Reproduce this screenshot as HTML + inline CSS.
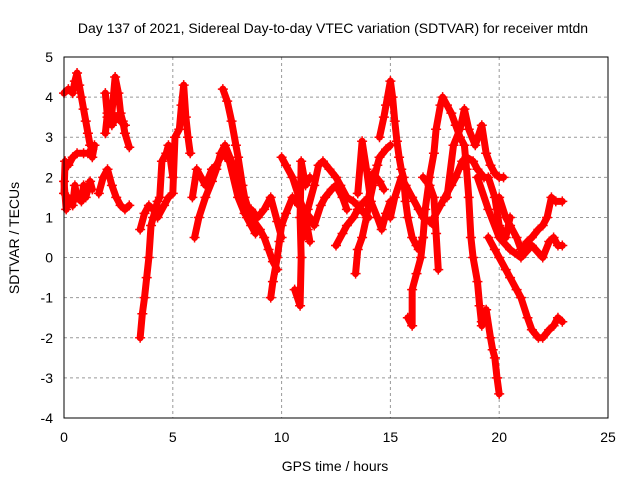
<!DOCTYPE html>
<html><head><meta charset="utf-8"><style>
body{margin:0;background:#fff}
svg{display:block;font-family:"Liberation Sans",sans-serif}
</style></head><body>
<svg id="chart" width="640" height="480" viewBox="0 0 640 480">
<rect width="640" height="480" fill="#fff"/>
<text x="333" y="33" font-size="14" text-anchor="middle">Day 137 of 2021, Sidereal Day-to-day VTEC variation (SDTVAR) for receiver mtdn</text>
<g id="grid"></g>
<g id="marks"></g>
<rect x="64" y="57" width="544" height="361" fill="none" stroke="#000" stroke-width="1"/>
<g id="ticks"></g>
<text x="335" y="471" font-size="14" text-anchor="middle">GPS time / hours</text>
<text x="19" y="238" font-size="14" text-anchor="middle" transform="rotate(-90 19 238)">SDTVAR / TECUs</text>
</svg>
<script>
const xTicks=[0,5,10,15,20,25];
const yTicks=[-4,-3,-2,-1,0,1,2,3,4,5];
const arc1=[[0,4.1],[0.2,4.2],[0.4,4.1],[0.5,4.4],[0.6,4.6],[0.7,4.3],[0.8,4.0],[0.9,3.7],[1.0,3.4],[1.1,3.1],[1.2,2.8]];
const arc2=[[1.9,3.1],[2.0,3.6],[2.1,3.4],[2.2,3.6],[2.35,4.5],[2.5,4.1],[2.6,3.6],[2.7,3.4],[2.8,3.1],[3.0,2.75]];
const arc2b=[[1.9,4.1],[2.0,3.5],[2.2,3.3],[2.4,3.5],[2.6,3.4],[2.8,3.3]];
const arc3=[[0,1.6],[0.05,2.4],[0.2,2.3],[0.4,2.5],[0.6,2.6],[0.9,2.6],[1.1,2.6],[1.3,2.7],[1.4,2.8],[1.3,2.5]];
const arc4=[[0,1.9],[0.1,1.2],[0.2,1.5],[0.4,1.3],[0.5,1.8],[0.6,1.5],[0.8,1.4],[0.9,1.8],[1.0,1.5],[1.2,1.9],[1.3,1.7]];
const arc5=[[1.6,1.6],[1.8,2.0],[2.0,2.2],[2.2,1.8],[2.4,1.5],[2.6,1.3],[2.8,1.2],[3.0,1.3]];
const arc6=[[3.5,-2.0],[3.6,-1.4],[3.7,-1.0],[3.8,-0.5],[3.9,0.0],[4.0,0.8],[4.1,1.0],[4.3,1.4],[4.4,1.5],[4.5,2.4],[4.7,2.6],[4.8,2.8],[5.0,2.0]];
const arc7=[[3.5,0.7],[3.7,1.1],[3.9,1.3],[4.1,1.2],[4.3,1.0],[4.6,1.3],[4.8,1.5],[5.0,1.6],[5.1,3.0],[5.3,3.2],[5.4,3.8],[5.5,4.3],[5.6,3.5],[5.7,3.0],[5.8,2.6]];
const arc8=[[5.9,1.5],[6.1,2.2],[6.3,2.0],[6.5,1.8],[6.8,2.2],[7.0,2.3],[7.3,2.6],[7.6,2.4],[8.0,1.5],[8.3,1.1],[8.6,1.2],[8.9,1.0],[9.2,1.2],[9.5,1.5],[9.8,0.9],[10.0,0.5]];
const arc9=[[6.0,0.5],[6.2,1.0],[6.5,1.5],[6.8,1.9],[7.0,2.2],[7.2,2.6],[7.4,2.8],[7.7,2.4],[8.0,2.0],[8.2,1.4],[8.4,1.0],[8.6,0.8],[8.8,0.6]];
const arc10=[[7.3,4.2],[7.5,3.9],[7.7,3.4],[7.9,2.8],[8.0,2.5],[8.2,1.8],[8.3,1.5],[8.6,1.0],[9.0,0.7],[9.2,0.5],[9.4,0.2],[9.6,-0.1],[9.8,-0.3]];
const arc11=[[9.5,-1.0],[9.6,-0.6],[9.8,0.0],[9.9,0.4],[10.0,0.8],[10.2,1.1],[10.5,1.5],[10.8,1.3],[11.0,1.2],[11.2,0.7],[11.3,0.4]];
const arc12=[[10.0,2.5],[10.2,2.3],[10.5,2.0],[10.8,1.5],[11.0,1.2],[11.3,1.0],[11.5,0.8],[11.8,1.3],[12.0,1.5],[12.3,1.7],[12.5,1.8],[12.8,1.5],[13.0,1.2]];
const arc12b=[[10.6,-0.8],[10.85,-1.2],[10.9,0.0],[10.85,1.0],[10.9,2.4],[11.1,1.8],[11.3,2.0]];
const arc13=[[11.0,0.5],[11.2,1.2],[11.5,1.8],[11.7,2.3],[11.9,2.4],[12.2,2.2],[12.5,2.0],[12.7,1.8],[13.0,1.5],[13.3,1.4],[13.5,1.3],[13.8,1.1],[14.0,1.0]];
const arc14=[[12.5,0.3],[12.8,0.6],[13.0,0.8],[13.3,1.0],[13.5,1.2],[13.8,1.4],[14.0,1.5],[14.2,2.1],[14.5,1.9],[14.7,1.7]];
const arc15=[[13.4,-0.4],[13.5,0.2],[13.7,0.5],[13.9,1.0],[14.0,1.3],[14.2,1.8],[14.4,2.3],[14.5,2.5],[14.8,2.7],[15.0,2.8]];
const arc15b=[[13.5,1.6],[13.7,2.9],[13.9,2.2],[14.1,1.4],[14.4,1.0],[14.6,0.7],[14.8,1.1],[15.0,1.4]];
const arc16=[[14.5,3.0],[14.7,3.5],[14.8,3.8],[15.0,4.4],[15.1,4.0],[15.2,3.4],[15.3,2.9],[15.4,2.5],[15.5,2.2],[15.6,2.0],[15.7,1.4],[15.8,1.0],[16.0,0.5],[16.2,0.3],[16.3,0.2],[16.5,0.5]];
const arc17=[[15.0,1.0],[15.2,1.5],[15.5,2.0],[15.7,1.8],[16.0,1.5],[16.3,1.2],[16.5,1.0],[16.8,0.9],[17.0,0.8]];
const arc18=[[15.8,-1.5],[16.0,-1.7],[16.0,-0.8],[16.2,-0.4],[16.4,0.0],[16.5,0.5],[16.6,1.2],[16.8,2.0],[17.0,2.6],[17.1,3.2],[17.3,3.8],[17.4,4.0],[17.6,3.8],[17.8,3.6],[18.0,3.3],[18.2,3.0],[18.4,2.8],[18.5,2.2],[18.6,1.5],[18.7,0.5],[18.8,0.0],[19.0,-0.6],[19.1,-1.2],[19.2,-1.7]];
const arc19=[[16.5,2.0],[16.8,1.8],[17.0,1.5],[17.1,0.6],[17.2,-0.3]];
const arc20=[[17.0,1.0],[17.3,1.3],[17.5,1.5],[17.8,1.8],[18.0,2.0],[18.3,2.4],[18.5,2.5],[18.8,2.4],[19.0,2.2],[19.3,2.0],[19.5,2.0],[19.8,1.5],[20.0,0.8],[20.3,0.5],[20.5,1.0]];
const arc20b=[[17.6,1.5],[17.9,2.8],[18.2,3.2],[18.4,3.7],[18.6,3.2],[18.9,2.8],[19.2,3.3],[19.4,2.6],[19.6,2.3],[19.8,2.1],[20.0,2.0],[20.2,2.0]];
const arc21=[[19.2,-1.6],[19.4,-1.3],[19.6,-2.0],[19.7,-2.3],[19.8,-2.5],[19.9,-3.0],[20.0,-3.4]];
const arc22=[[19.5,0.5],[19.8,0.2],[20.0,0.0],[20.3,-0.3],[20.5,-0.5],[20.8,-0.8],[21.0,-1.0],[21.3,-1.5],[21.5,-1.8],[21.8,-2.0],[22.0,-2.0],[22.3,-1.8],[22.5,-1.7],[22.7,-1.5],[22.9,-1.6]];
const arc23=[[20.0,1.5],[20.3,1.0],[20.5,0.8],[20.8,0.5],[21.0,0.2],[21.3,0.4],[21.5,0.5],[21.8,0.7],[22.0,0.8],[22.2,1.0],[22.4,1.5],[22.6,1.4],[22.9,1.4]];
const arc24=[[19.0,2.0],[19.5,1.2],[20.0,0.5],[20.5,0.2],[21.0,0.0],[21.5,0.3],[22.0,0.0],[22.3,0.4],[22.5,0.5],[22.7,0.3],[22.9,0.3]];
const series=[arc1,arc2,arc2b,arc3,arc4,arc5,arc6,arc7,arc8,arc9,arc10,arc11,arc12,arc12b,arc13,arc14,arc15,arc15b,arc16,arc17,arc18,arc19,arc20,arc20b,arc21,arc22,arc23,arc24];

const X=t=>64+t*(544/25);
const Y=v=>418-(v+4)*(361/9);
const NS="http://www.w3.org/2000/svg";
const grid=document.getElementById('grid'),ticks=document.getElementById('ticks'),marks=document.getElementById('marks');
function mk(tag,attrs,parent){const e=document.createElementNS(NS,tag);for(const k in attrs)e.setAttribute(k,attrs[k]);parent.appendChild(e);return e;}
xTicks.forEach(t=>{
  const x=X(t);
  if(t>0&&t<25){const g=mk('line',{x1:x,y1:57,x2:x,y2:418,stroke:'#999','stroke-dasharray':'3,3'},grid);
  
  }
  const l=mk('text',{x:x,y:442,'font-size':14,'text-anchor':'middle'},ticks);l.textContent=t;
  
  
});
yTicks.forEach(v=>{
  const y=Y(v);
  if(v>-4&&v<5){const g=mk('line',{x1:64,y1:y,x2:608,y2:y,stroke:'#999','stroke-dasharray':'3,3'},grid);
  
  }
  const l=mk('text',{x:53,y:y+5,'font-size':14,'text-anchor':'end'},ticks);l.textContent=v;
  
  
});
series.forEach((s,i)=>{
  const p=mk('polyline',{points:s.map(d=>X(d[0])+','+Y(d[1])).join(' '),fill:'none',stroke:'#f00','stroke-width':7,'stroke-linejoin':'round','stroke-linecap':'round'},marks);
  
  
  s.forEach(d=>{
    const x=X(d[0]),y=Y(d[1]);
    const m=mk('path',{d:`M${x-5},${y}H${x+5}M${x},${y-5}V${y+5}`,stroke:'#f00','stroke-width':1.5},marks);
    
    
  });
});
</script>
</body></html>
